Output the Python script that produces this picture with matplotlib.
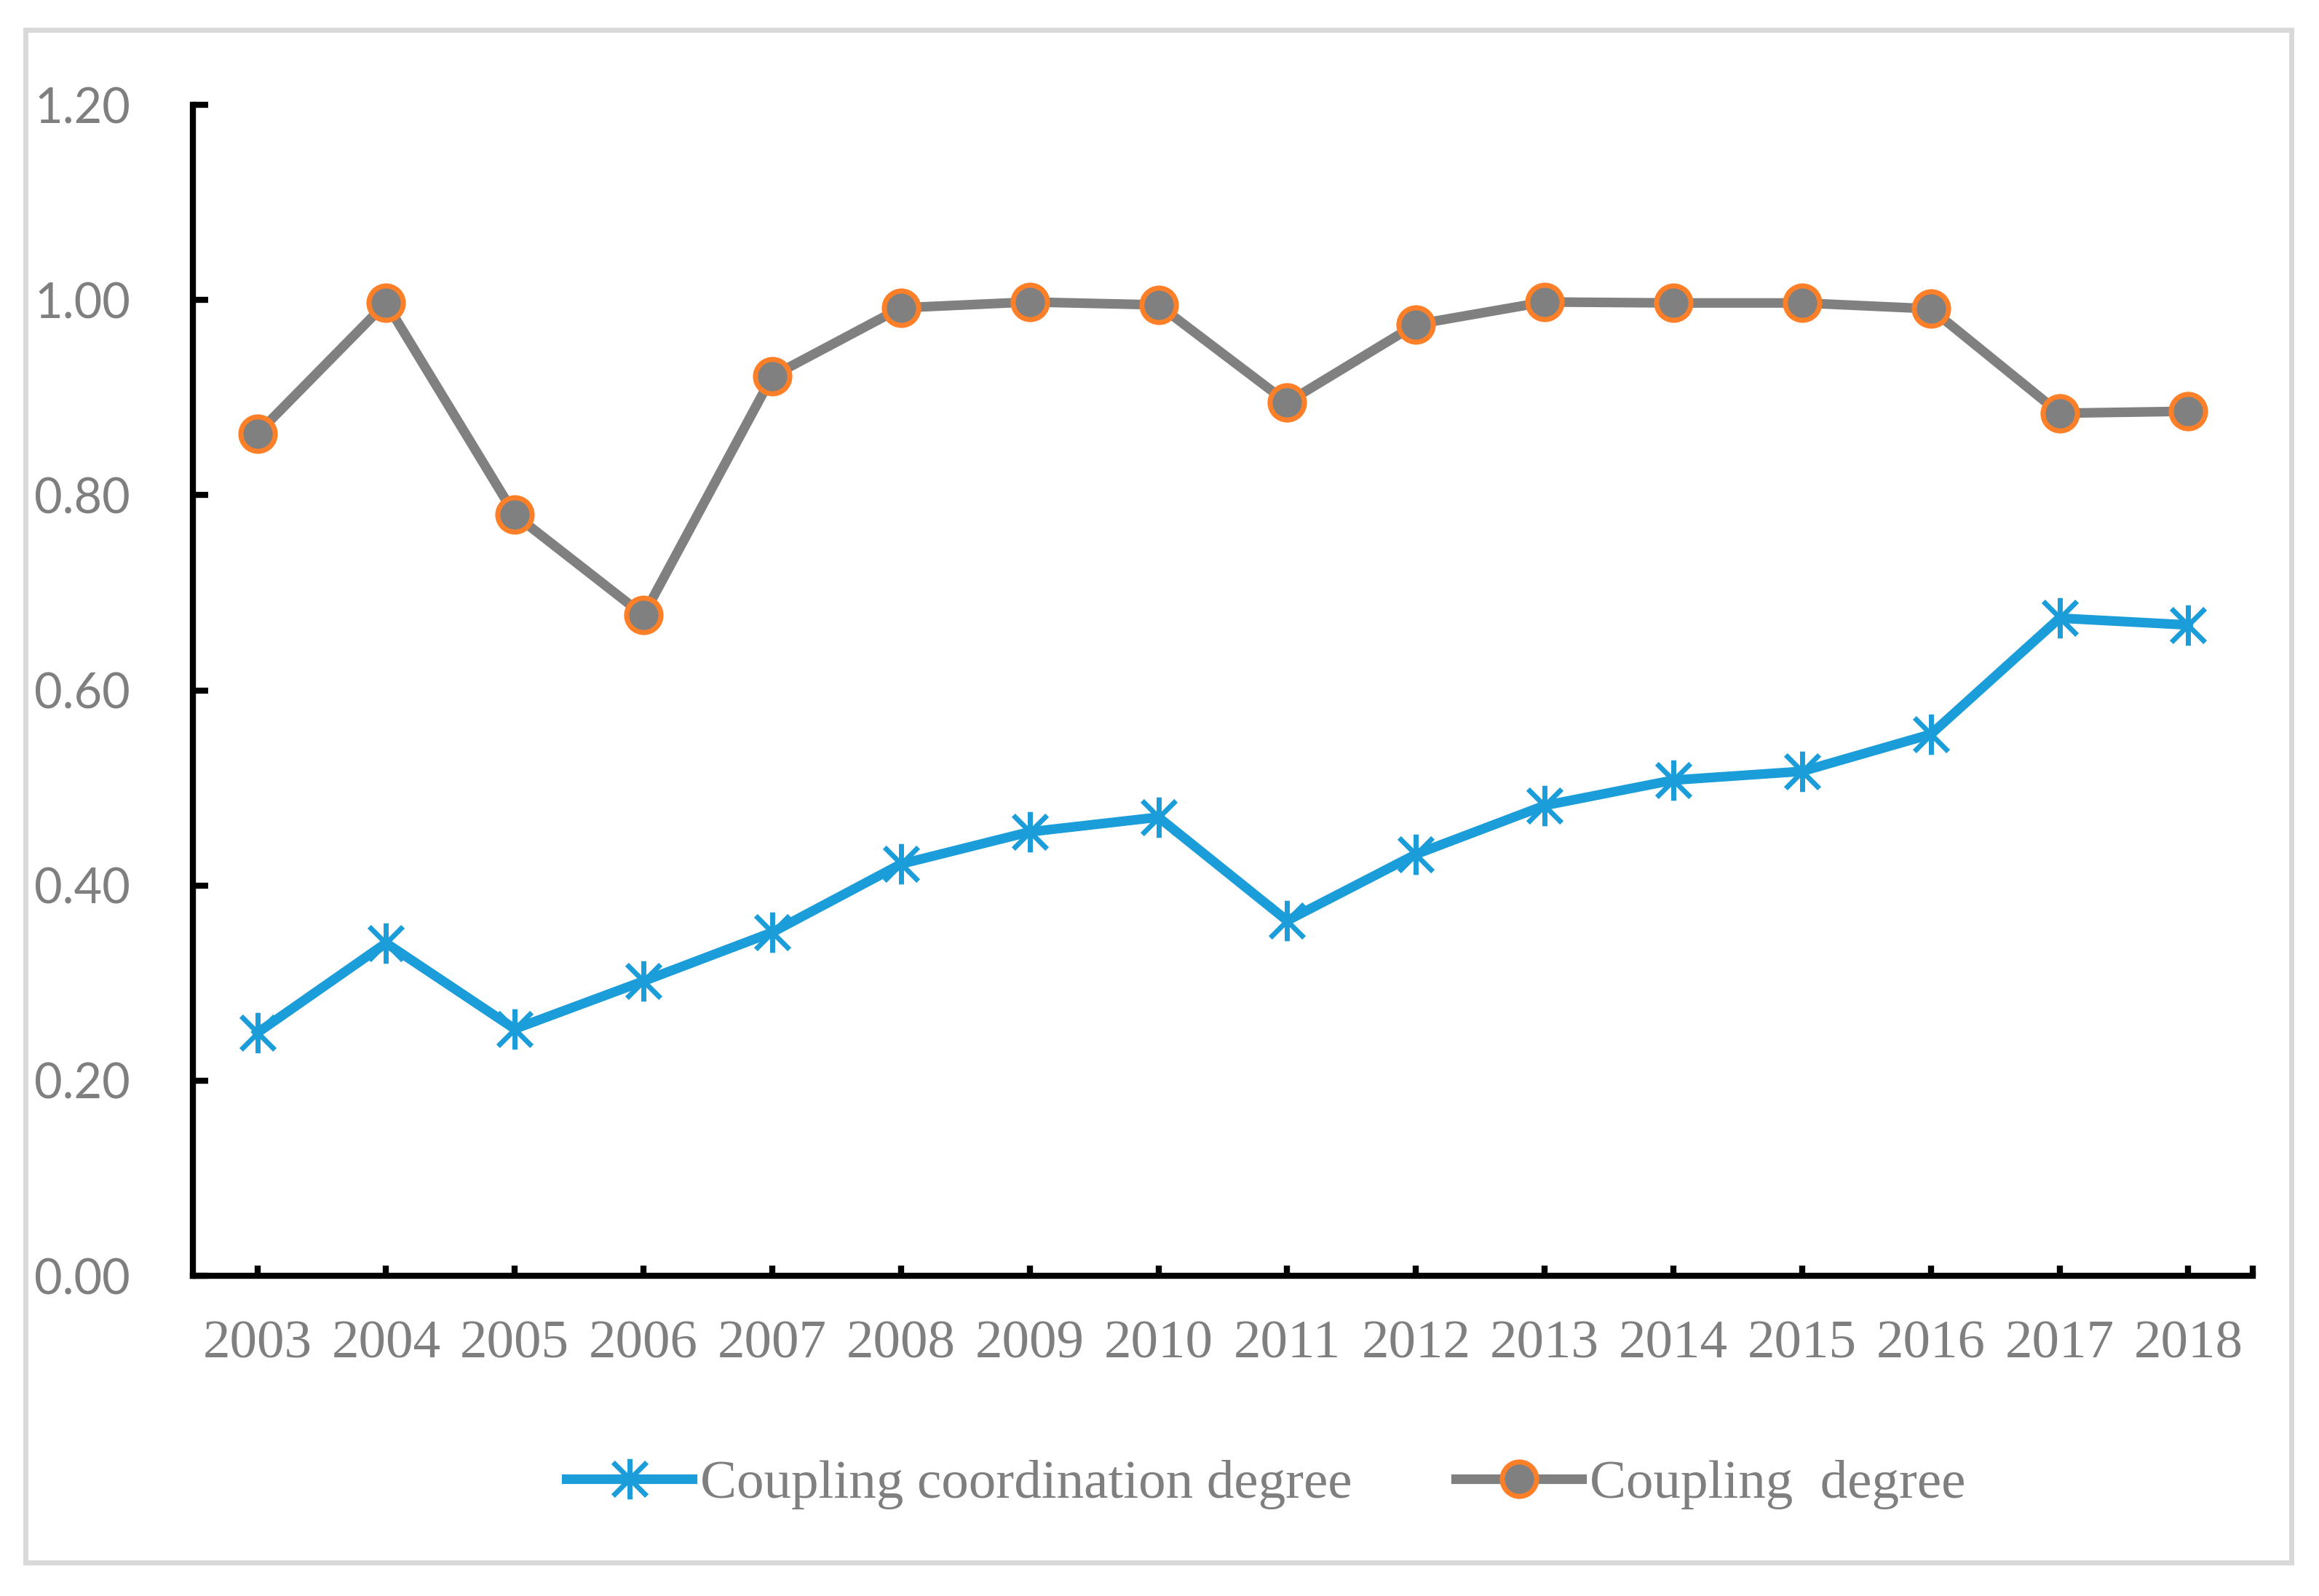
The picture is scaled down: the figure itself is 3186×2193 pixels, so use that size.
import matplotlib
matplotlib.use("Agg")
import matplotlib.pyplot as plt
from matplotlib.path import Path
from matplotlib.patches import Rectangle

# data
years = ["2003", "2004", "2005", "2006", "2007", "2008", "2009", "2010",
         "2011", "2012", "2013", "2014", "2015", "2016", "2017", "2018"]
coord_degree = [0.249, 0.341, 0.253, 0.302, 0.352, 0.422, 0.455, 0.470,
                0.364, 0.432, 0.482, 0.508, 0.517, 0.555, 0.674, 0.667]
coupling_degree = [0.863, 0.997, 0.780, 0.677, 0.922, 0.992, 0.998, 0.995,
                   0.895, 0.975, 0.998, 0.997, 0.997, 0.991, 0.884, 0.886]
y_ticks = [0.0, 0.2, 0.4, 0.6, 0.8, 1.0, 1.2]

BLUE = "#1b9dd9"
GREY = "#808080"
ORANGE = "#fd7f28"
TXT = "#7f7f7f"

# Excel-like asterisk: an X plus a vertical bar
asterisk = Path([(-1, -1), (1, 1), (-1, 1), (1, -1), (0, -1.2), (0, 1.2)],
                [Path.MOVETO, Path.LINETO, Path.MOVETO, Path.LINETO,
                 Path.MOVETO, Path.LINETO])

fig = plt.figure(figsize=(31.86, 21.93), dpi=100)
ax = fig.add_axes([0.0832, 0.2006, 0.9714 - 0.0832, 0.9343 - 0.2006])

x = list(range(len(years)))
ax.plot(x, coord_degree, color=BLUE, lw=9.5, marker=asterisk, ms=40,
        mew=5, mec=BLUE, label="Coupling coordination degree")
ax.plot(x, coupling_degree, color=GREY, lw=9.5, marker="o", ms=34,
        mfc=GREY, mec=ORANGE, mew=5, label="Coupling  degree")

ax.set_xlim(-0.5, len(years) - 0.5)
ax.set_ylim(0, 1.2)
ax.set_xticks(x)
ax.set_xticklabels(years, family="Liberation Serif", fontsize=54, color=TXT)
ax.set_xticks([len(years) - 0.5], minor=True)
ax.set_yticks(y_ticks)
ax.set_yticklabels([f"{v:.2f}" for v in y_ticks], family="Lato",
                   fontsize=48, color=TXT)

ax.tick_params(axis="y", direction="in", length=15, width=6, pad=62)
ax.tick_params(axis="x", which="both", direction="in", length=10, width=6, pad=44)

for side in ["top", "right"]:
    ax.spines[side].set_visible(False)
for side in ["left", "bottom"]:
    ax.spines[side].set_linewidth(6)
    ax.spines[side].set_color("black")

leg = fig.legend(loc="center", bbox_to_anchor=(0.546, 1 - 2040 / 2193),
                 ncol=2, frameon=False, handlelength=2.3, handletextpad=0.15,
                 columnspacing=1.9,
                 prop={"family": "Liberation Serif", "size": 54})
for t in leg.get_texts():
    t.set_color(TXT)

# light grey frame round the whole chart
fig.patches.append(Rectangle((34.5 / 3186, 1 - 2147 / 2193),
                             (3147.5 - 34.5) / 3186, (2147 - 41) / 2193,
                             transform=fig.transFigure, fill=False,
                             edgecolor="#d9d9d9", lw=5))

fig.savefig("out.png", dpi=100, facecolor="white")
